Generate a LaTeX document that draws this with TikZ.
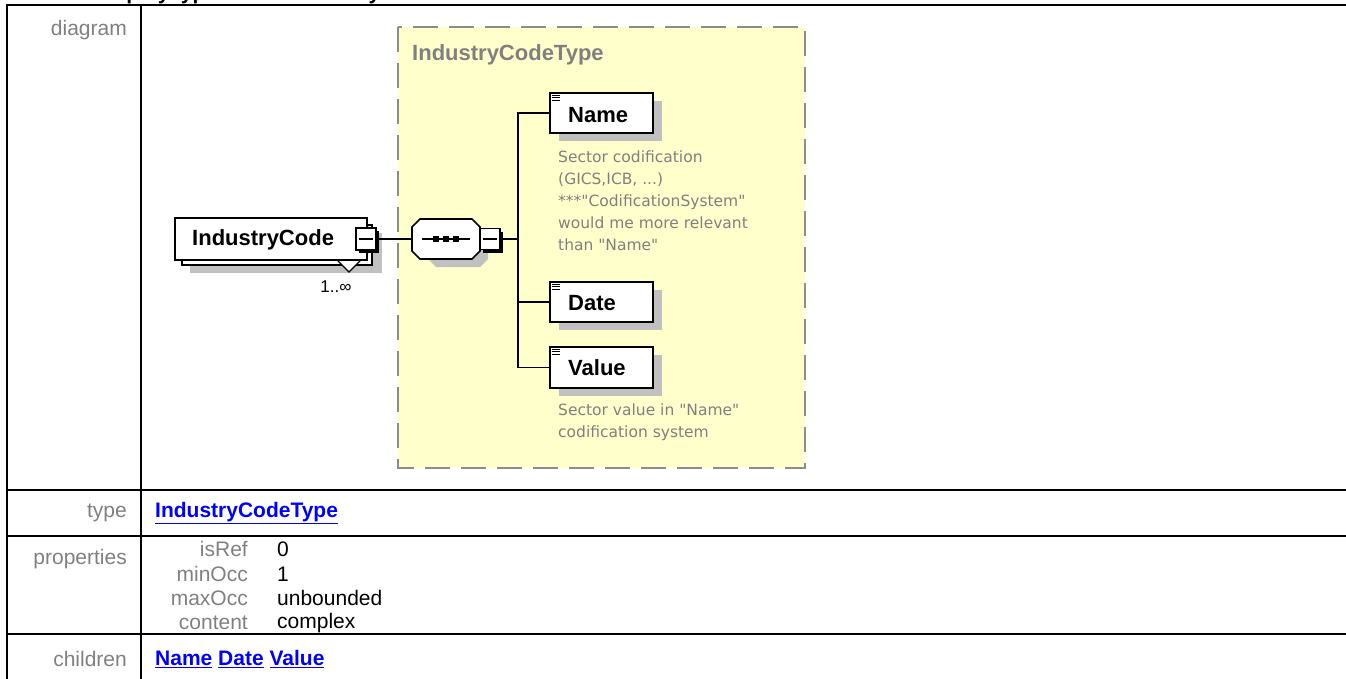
\documentclass[tikz,border=0pt]{standalone}
\usepackage{fontspec}
\setmainfont{Liberation Sans}
\newfontfamily\tah{DejaVu Sans}
\definecolor{boxyellow}{RGB}{255,255,204}
\definecolor{dashgray}{RGB}{140,140,140}
\definecolor{shadowgray}{RGB}{192,192,192}
\definecolor{labelgray}{RGB}{128,128,128}
\definecolor{linkblue}{RGB}{0,0,255}
\tikzset{
  tline/.style={line width=2pt, black},
  rowlabel/.style={anchor=east, inner sep=0pt, text=labelgray, font=\fontsize{21}{25}\selectfont},
  propval/.style={anchor=west, inner sep=0pt, text=black, font=\fontsize{21}{25}\selectfont},
  linktext/.style={anchor=west, inner sep=0pt, text=linkblue, font=\bfseries\fontsize{21}{25}\selectfont},
  elbox/.style={draw=black, line width=1.6pt, fill=white, inner sep=0pt, rectangle},
  shadowbox/.style={fill=shadowgray, draw=none, inner sep=0pt, rectangle},
  eltext/.style={anchor=west, inner sep=0pt, font=\bfseries\fontsize{22}{26}\selectfont},
  annot/.style={anchor=north west, inner sep=0pt, align=left, text=labelgray, font=\tah\fontsize{15.5}{22}\selectfont},
  minusbox/.style={draw=black, line width=1.4pt, fill=white, inner sep=0pt, minimum width=20pt, minimum height=22pt},
  conn/.style={line width=1.6pt, black},
}
\begin{document}
\begin{tikzpicture}[x=1pt,y=-1pt]
\clip (0,0) rectangle (1346,679);
\useasboundingbox (0,0) rectangle (1346,679);
% clipped title
\node[anchor=base west, inner sep=0pt, font=\bfseries\fontsize{21}{25}\selectfont] (title) at (20,0) {element EquityType/Assets/IndustryCode};
% table
\draw[tline] (7,5) -- (1346,5);
\draw[tline] (7,4) -- (7,679);
\draw[tline] (141,4) -- (141,679);
\draw[tline] (7,490) -- (1346,490);
\draw[tline] (7,536) -- (1346,536);
\draw[tline] (7,634) -- (1346,634);
\node[rowlabel] (ldiagram) at (127,30) {diagram};
\node[rowlabel] (ltype) at (127,513) {type};
\node[rowlabel] (lprops) at (127,559) {properties};
\node[rowlabel] (lchildren) at (127,659) {children};
\node[linktext] (vtype) at (155,513) {\underline{IndustryCodeType}};
\node[rowlabel] (pisref) at (248,549) {isRef};
\node[rowlabel] (pminocc) at (248,574) {minOcc};
\node[rowlabel] (pmaxocc) at (248,598) {maxOcc};
\node[rowlabel] (pcontent) at (248,623) {content};
\node[propval] (visref) at (277,549) {0};
\node[propval] (vminocc) at (277,574) {1};
\node[propval] (vmaxocc) at (277,598) {unbounded};
\node[propval] (vcontent) at (277,623) {complex};
\node[linktext] (vchildren) at (155,659) {\underline{Name} \underline{Date} \underline{Value}};
% type box
\draw[fill=boxyellow, draw=dashgray, line width=2pt, dash pattern=on 25pt off 11pt] (398,27) rectangle (805,468);
\node[anchor=west, inner sep=0pt, text=labelgray, font=\bfseries\fontsize{22}{26}\selectfont] (typename) at (412,55) {IndustryCodeType};
% IndustryCode element (multiple)
\node[shadowbox, minimum width=192pt, minimum height=40pt] (icshadow) at (286,253) {};
\node[elbox, minimum width=190pt, minimum height=40pt] (icback) at (277,245) {};
\node[elbox, minimum width=192pt, minimum height=42pt] (ic) at (271,239) {};
\node[eltext] (ictext) at (192,240) {IndustryCode};
\draw[black, line width=1.3pt, fill=white] (338,261) -- (349,272) -- (360,261);
\node[anchor=center, inner sep=0pt, font=\fontsize{17}{20}\selectfont] (occ) at (336,287) {1..∞};
\node[fill=black, inner sep=0pt, minimum width=20pt, minimum height=22pt] (icmsh) at (369,242) {};
\node[minusbox] (icm) at (366,239) {};
\draw[black, line width=1.3pt] ([xshift=4pt]icm.west) -- ([xshift=-4pt]icm.east);
% sequence compositor
\fill[shadowgray] (428,235) -- (436,227) -- (480,227) -- (488,235) -- (488,259) -- (480,267) -- (436,267) -- (428,259) -- cycle;
\node[inner sep=0pt, minimum width=68pt, minimum height=40pt] (seq) at (446,239) {};
\draw[black, line width=1.6pt, fill=white] (412,227) -- (420,219) -- (472,219) -- (480,227) -- (480,251) -- (472,259) -- (420,259) -- (412,251) -- cycle;
\draw[black, line width=1.3pt] ([xshift=10pt]seq.west) -- ([xshift=-10pt]seq.east);
\foreach \dx in {-10,0,10} \fill[black] ([xshift=\dx pt]seq.center) ++(-3,-3) rectangle ++(6,6);
\node[fill=black, inner sep=0pt, minimum width=20pt, minimum height=21pt] (seqmsh) at (493,242) {};
\node[minusbox, minimum height=21pt] (seqm) at (490,239) {};
\draw[black, line width=1.3pt] ([xshift=4pt]seqm.west) -- ([xshift=-4pt]seqm.east);
\draw[conn] (icm.east) -- (seq.west);
% children
\node[shadowbox, minimum width=103pt, minimum height=40pt] (namesh) at (610,121) {};
\node[elbox, minimum width=103pt, minimum height=40pt] (name) at (601.5,113) {};
\node[eltext] (nametext) at (568,115) {Name};
\node[shadowbox, minimum width=103pt, minimum height=40pt] (datesh) at (610,310) {};
\node[elbox, minimum width=103pt, minimum height=40pt] (date) at (601.5,302) {};
\node[eltext] (datetext) at (568,303) {Date};
\node[shadowbox, minimum width=103pt, minimum height=41pt] (valuesh) at (610,375.5) {};
\node[elbox, minimum width=103pt, minimum height=41pt] (value) at (601.5,367.5) {};
\node[eltext] (valuetext) at (568,368) {Value};
\foreach \n in {name,date,value}{
  \foreach \dy in {3,5.5,8} \draw[black, line width=0.9pt] ([shift={(3,\dy)}]\n.north west) -- ++(8,0);
}
\coordinate (bus) at (518,239);
\draw[conn] (seqm.east) -- (bus);
\draw[conn] (bus) |- (name.west);
\draw[conn] (bus) |- (date.west);
\draw[conn] (bus) |- (value.west);
% annotations
\node[annot] (nameann) at (558,151) {Sector codification\\(GICS,ICB, ...)\\***"CodificationSystem"\\would me more relevant\\than "Name"};
\node[annot] (valueann) at (558,404) {Sector value in "Name"\\codification system};
\end{tikzpicture}
\end{document}
